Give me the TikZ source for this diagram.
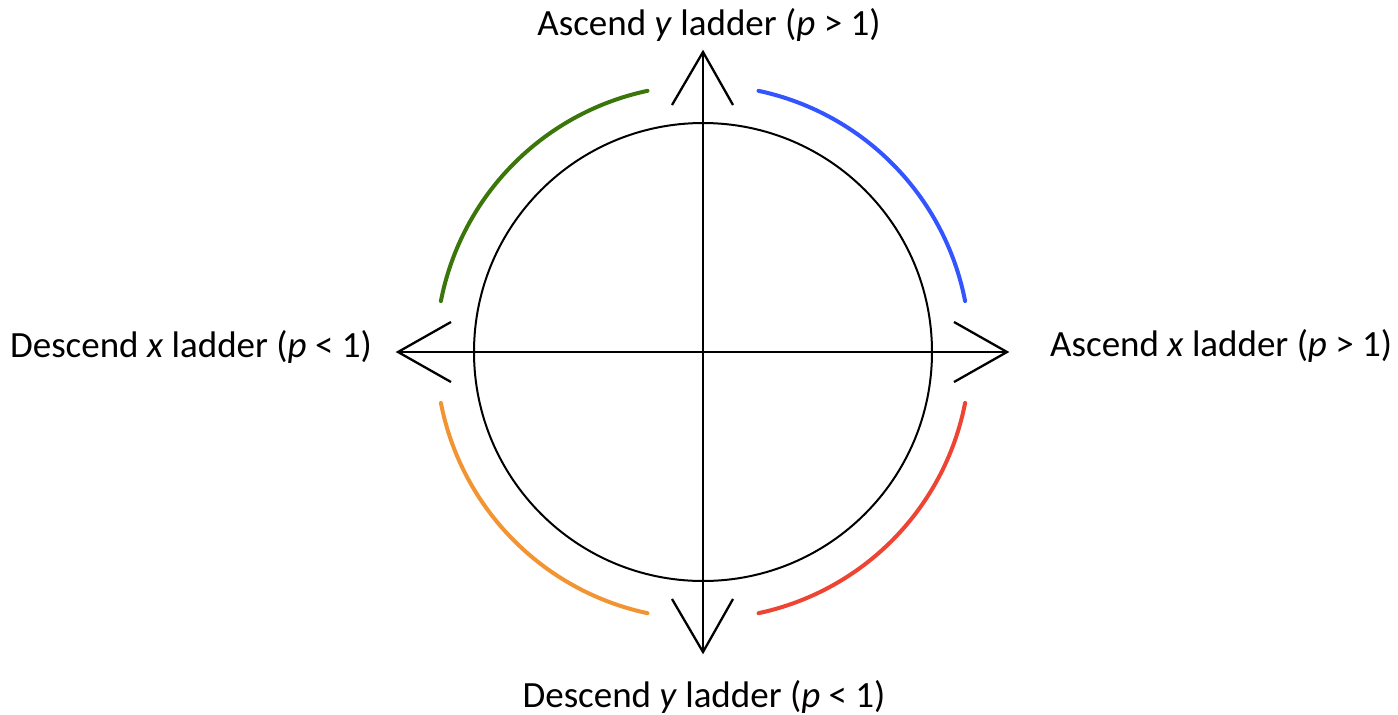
\documentclass[tikz,border=0pt]{standalone}
\usepackage{fontspec}
\setmainfont{Carlito}
\definecolor{cblue}{RGB}{51,85,255}
\definecolor{cgreen}{RGB}{58,118,10}
\definecolor{corange}{RGB}{243,148,50}
\definecolor{cred}{RGB}{238,68,51}
\begin{document}
\begin{tikzpicture}[x=1pt,y=-1pt,
  axis/.style={line width=2.3pt,black},
  head/.style={line width=2.3pt,black,line join=miter},
  arcline/.style={line width=4pt,line cap=round},
  lbl/.style={font=\fontsize{37}{44}\selectfont,inner sep=0pt}]
\useasboundingbox (0,0) rectangle (1398,715);
\coordinate (O) at (703,352);
\coordinate (T) at (703,52);
\coordinate (B) at (703,652);
\coordinate (L) at (398,352);
\coordinate (R) at (1007,352);
\draw[line width=2pt] (O) circle[radius=229];
\draw[axis] (L) -- (R);
\draw[axis] (T) -- (B);
% arrow heads
\coordinate (T1) at (672,105); \coordinate (T2) at (733,105);
\coordinate (B1) at (672,599); \coordinate (B2) at (733,599);
\coordinate (L1) at (451,322); \coordinate (L2) at (451,382);
\coordinate (R1) at (954,322); \coordinate (R2) at (954,382);
\draw[head] (T1) -- (T) -- (T2);
\draw[head] (B1) -- (B) -- (B2);
\draw[head] (L1) -- (L) -- (L2);
\draw[head] (R1) -- (R) -- (R2);
% coloured arcs (y axis downward: angles measured with flipped y)
\draw[arcline,cblue] ([shift={(-78:267)}]O) arc[start angle=-78,end angle=-11,radius=267];
\draw[arcline,cgreen] ([shift={(-102:267)}]O) arc[start angle=-102,end angle=-169,radius=267];
\draw[arcline,corange] ([shift={(169:267)}]O) arc[start angle=169,end angle=102,radius=267];
\draw[arcline,cred] ([shift={(78:267)}]O) arc[start angle=78,end angle=11,radius=267];
% labels
\node[lbl,anchor=base] (tl) at (709,35) {Ascend \textit{y} ladder (\textit{p} > 1)};
\node[lbl,anchor=base] (bl) at (704,707) {Descend \textit{y} ladder (\textit{p} < 1)};
\node[lbl,anchor=base west] (rl) at (1050,356) {Ascend \textit{x} ladder (\textit{p} > 1)};
\node[lbl,anchor=base east] (ll) at (372,357) {Descend \textit{x} ladder (\textit{p} < 1)};
\end{tikzpicture}
\end{document}
